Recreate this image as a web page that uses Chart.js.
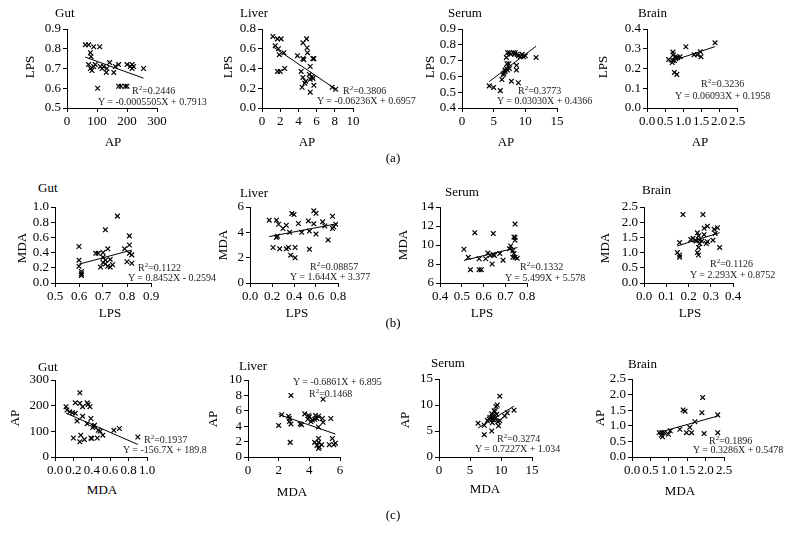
<!DOCTYPE html>
<html>
<head>
<meta charset="utf-8">
<script src="https://cdn.jsdelivr.net/npm/chart.js@4.4.1/dist/chart.umd.min.js"></script>
<style>
  body { margin: 0; background: #fff; width: 786px; height: 543px; position: relative; overflow: hidden;
         font-family: "Liberation Serif", "Times New Roman", serif; color: #000; }
  canvas { position: absolute; }
  .txt { position: absolute; white-space: nowrap; transform: translateY(-50%); }
  .ttl { font-size: 13px; }
  .xt { font-size: 13px; transform: translate(-50%, -50%); }
  .yt { font-size: 13px; transform: translate(-50%, -50%) rotate(-90deg); }
  .eq { font-size: 10px; color: #222; }
  .eq sup { font-size: 7px; vertical-align: 4px; line-height: 0; }
</style>
</head>
<body>
<script>
// (a) LPS vs AP
const gutA_x = [61, 72, 89, 109, 78, 80, 72, 78, 89, 83, 94, 111, 117, 122, 133, 131, 142, 156, 161, 172, 200, 211, 217, 217, 222, 255, 102, 172, 180, 194, 200];
const gutA_y = [0.82, 0.82, 0.81, 0.81, 0.78, 0.76, 0.72, 0.70, 0.71, 0.69, 0.72, 0.71, 0.70, 0.71, 0.70, 0.68, 0.73, 0.68, 0.71, 0.72, 0.72, 0.71, 0.72, 0.70, 0.71, 0.70, 0.60, 0.61, 0.61, 0.61, 0.61];
const liverA_x = [1.2, 1.7, 2.1, 1.45, 1.8, 1.9, 2.4, 1.7, 2.0, 2.5, 3.9, 4.5, 4.9, 4.95, 5.0, 4.5, 4.6, 5.6, 5.7, 5.3, 4.3, 4.5, 4.8, 4.7, 5.2, 5.5, 5.6, 5.3, 5.7, 4.4, 5.3, 7.7, 8.1];
const liverA_y = [0.725, 0.70, 0.70, 0.63, 0.60, 0.54, 0.56, 0.37, 0.37, 0.40, 0.53, 0.66, 0.70, 0.61, 0.56, 0.50, 0.49, 0.50, 0.50, 0.42, 0.37, 0.31, 0.27, 0.25, 0.34, 0.32, 0.30, 0.29, 0.23, 0.21, 0.16, 0.21, 0.19];
const serumA_x = [4.3, 5.0, 6.05, 6.3, 6.5, 6.6, 6.8, 7.0, 7.2, 7.1, 7.0, 7.2, 7.5, 7.7, 8.1, 8.3, 8.4, 8.7, 8.9, 9.2, 9.5, 9.7, 10.0, 7.5, 7.8, 8.6, 8.6, 8.9, 11.7, 6.8, 7.4];
const serumA_y = [0.54, 0.53, 0.51, 0.58, 0.61, 0.62, 0.64, 0.65, 0.64, 0.68, 0.72, 0.75, 0.75, 0.74, 0.75, 0.74, 0.75, 0.74, 0.73, 0.725, 0.74, 0.725, 0.73, 0.65, 0.57, 0.67, 0.64, 0.56, 0.72, 0.63, 0.68];
const brainA_x = [0.6, 0.72, 0.73, 0.76, 0.8, 0.7, 0.85, 0.92, 0.76, 0.83, 1.08, 1.31, 1.4, 1.5, 1.48, 1.89, 0.79, 0.72];
const brainA_y = [0.245, 0.283, 0.27, 0.24, 0.25, 0.23, 0.255, 0.26, 0.18, 0.17, 0.31, 0.27, 0.27, 0.26, 0.285, 0.33, 0.26, 0.24];

// (b) MDA vs LPS
const gutB_x = [0.60, 0.60, 0.60, 0.61, 0.61, 0.61, 0.67, 0.68, 0.70, 0.70, 0.71, 0.69, 0.71, 0.71, 0.72, 0.73, 0.73, 0.74, 0.76, 0.79, 0.81, 0.81, 0.81, 0.80, 0.82, 0.82, 0.70, 0.72];
const gutB_y = [0.48, 0.30, 0.22, 0.15, 0.12, 0.10, 0.39, 0.39, 0.40, 0.34, 0.30, 0.21, 0.25, 0.70, 0.45, 0.31, 0.21, 0.24, 0.88, 0.45, 0.62, 0.50, 0.39, 0.28, 0.26, 0.37, 0.27, 0.22];
const liverB_x = [0.175, 0.24, 0.26, 0.30, 0.33, 0.38, 0.40, 0.44, 0.53, 0.58, 0.60, 0.58, 0.66, 0.75, 0.78, 0.76, 0.75, 0.68, 0.71, 0.60, 0.54, 0.47, 0.36, 0.24, 0.25, 0.21, 0.27, 0.33, 0.35, 0.41, 0.37, 0.41, 0.54];
const liverB_y = [4.96, 4.96, 4.64, 4.3, 4.56, 5.48, 5.4, 4.7, 4.9, 5.7, 5.5, 4.67, 4.83, 5.27, 4.64, 4.44, 4.3, 4.5, 3.4, 3.86, 4.1, 4.0, 4.0, 3.6, 3.7, 2.8, 2.7, 2.7, 2.8, 2.8, 2.2, 2.0, 2.66];
const serumB_x = [0.51, 0.53, 0.54, 0.56, 0.58, 0.58, 0.59, 0.61, 0.62, 0.63, 0.645, 0.645, 0.64, 0.675, 0.69, 0.72, 0.725, 0.735, 0.74, 0.745, 0.745, 0.745, 0.735, 0.745, 0.755, 0.74, 0.65];
const serumB_y = [9.55, 8.7, 7.4, 11.3, 8.55, 7.4, 7.4, 8.55, 9.15, 8.9, 9.0, 11.2, 8.0, 9.1, 8.4, 9.6, 9.9, 9.4, 10.85, 10.8, 12.2, 10.5, 8.7, 8.7, 8.6, 9.1, 8.9];
const brainB_x = [0.15, 0.16, 0.16, 0.16, 0.175, 0.22, 0.23, 0.24, 0.245, 0.235, 0.25, 0.245, 0.24, 0.245, 0.25, 0.265, 0.27, 0.285, 0.27, 0.285, 0.28, 0.31, 0.315, 0.33, 0.32, 0.34, 0.26, 0.21];
const brainB_y = [1.0, 0.92, 0.85, 1.33, 2.25, 1.47, 1.41, 1.65, 1.55, 1.38, 1.3, 1.17, 1.0, 0.92, 1.41, 2.25, 1.8, 1.87, 1.59, 1.36, 1.3, 1.41, 1.77, 1.82, 1.63, 1.17, 1.38, 1.43];

// (c) AP vs MDA
const gutC_x = [0.12, 0.16, 0.22, 0.27, 0.27, 0.30, 0.35, 0.36, 0.38, 0.22, 0.24, 0.30, 0.39, 0.35, 0.42, 0.41, 0.47, 0.49, 0.52, 0.46, 0.39, 0.40, 0.32, 0.27, 0.20, 0.28, 0.64, 0.70, 0.90, 0.13, 0.19, 0.43];
const gutC_y = [196, 176, 211, 250, 209, 196, 211, 205, 196, 170, 140, 159, 150, 130, 120, 115, 104, 100, 85, 74, 74, 72, 68, 59, 74, 85, 104, 111, 78, 183, 172, 124];
const liverC_x = [2.0, 2.2, 2.8, 2.65, 2.7, 2.7, 2.8, 2.75, 3.4, 3.5, 3.7, 3.9, 3.96, 4.0, 4.1, 4.2, 4.35, 4.5, 4.6, 4.4, 4.6, 4.85, 4.9, 4.9, 5.4, 4.35, 4.5, 4.6, 4.6, 4.65, 4.8, 5.3, 5.5, 5.6, 5.7, 4.6];
const liverC_y = [4.1, 5.5, 8.0, 5.3, 5.0, 4.6, 4.3, 1.9, 4.3, 4.2, 5.6, 4.9, 5.4, 5.2, 4.6, 4.8, 4.9, 5.0, 5.3, 5.4, 3.9, 5.0, 4.5, 7.5, 5.0, 1.9, 1.5, 1.1, 2.4, 1.3, 1.6, 1.6, 2.4, 1.6, 1.8, 1.9];
const serumC_x = [6.3, 7.3, 7.3, 7.8, 8.1, 8.5, 8.6, 8.6, 8.5, 8.9, 9.0, 9.2, 9.4, 9.5, 8.9, 9.6, 9.8, 9.8, 10.6, 11.0, 12.1, 8.2, 8.8, 9.1, 8.7, 9.3];
const serumC_y = [6.5, 6.1, 4.3, 7.0, 7.3, 8.3, 7.7, 6.6, 5.0, 8.9, 8.7, 9.7, 10.0, 6.8, 7.1, 6.0, 11.7, 7.0, 7.9, 8.5, 9.0, 7.6, 8.0, 7.5, 7.2, 8.2];
const brainC_x = [0.74, 0.81, 0.83, 0.88, 0.99, 1.04, 1.3, 1.39, 1.44, 1.48, 1.57, 1.62, 1.71, 1.9, 1.92, 1.96, 2.33, 2.33, 0.8];
const brainC_y = [0.78, 0.78, 0.65, 0.78, 0.73, 0.84, 0.89, 1.51, 1.47, 0.78, 0.95, 0.78, 1.13, 1.42, 1.91, 0.75, 1.35, 0.78, 0.70];

// regression lines: [slope, intercept], R squared
const fitSlope = [-0.0005505, -0.06236, 0.03030, 0.06093, 0.8452, 1.644, 5.499, 2.293, -156.7, -0.6861, 0.7227, 0.3286];
const fitIntercept = [0.7913, 0.6957, 0.4366, 0.1958, -0.2594, 3.377, 5.578, 0.8752, 189.8, 6.895, 1.034, 0.5478];
const fitEquation = [
  "Y = -0.0005505X + 0.7913", "Y = -0.06236X + 0.6957", "Y = 0.03030X + 0.4366", "Y = 0.06093X + 0.1958",
  "Y = 0.8452X - 0.2594", "Y = 1.644X + 3.377", "Y = 5.499X + 5.578", "Y = 2.293X + 0.8752",
  "Y = -156.7X + 189.8", "Y = -0.6861X + 6.895", "Y = 0.7227X + 1.034", "Y = 0.3286X + 0.5478"
];
const fitR2 = ["0.2446", "0.3806", "0.3773", "0.3236", "0.1122", "0.08857", "0.1332", "0.1126", "0.1937", "0.1468", "0.3274", "0.1896"];

const tissues = ["Gut", "Liver", "Serum", "Brain"];
const rowAxes = [["AP", "LPS"], ["LPS", "MDA"], ["MDA", "AP"]];
const rowLabels = ["(a)", "(b)", "(c)"];

// per panel: data, axis [min, max, step, decimals]
const panels = [
  { xs: gutA_x, ys: gutA_y, xr: [0, 300, 100, 0], yr: [0.5, 0.9, 0.1, 1] },
  { xs: liverA_x, ys: liverA_y, xr: [0, 10, 2, 0], yr: [0, 0.8, 0.2, 1] },
  { xs: serumA_x, ys: serumA_y, xr: [0, 15, 5, 0], yr: [0.4, 0.9, 0.1, 1] },
  { xs: brainA_x, ys: brainA_y, xr: [0, 2.5, 0.5, 1], yr: [0, 0.4, 0.1, 1] },
  { xs: gutB_x, ys: gutB_y, xr: [0.5, 0.9, 0.1, 1], yr: [0, 1, 0.2, 1] },
  { xs: liverB_x, ys: liverB_y, xr: [0, 0.8, 0.2, 1], yr: [0, 6, 2, 0] },
  { xs: serumB_x, ys: serumB_y, xr: [0.4, 0.8, 0.1, 1], yr: [6, 14, 2, 0] },
  { xs: brainB_x, ys: brainB_y, xr: [0, 0.4, 0.1, 1], yr: [0, 2.5, 0.5, 1] },
  { xs: gutC_x, ys: gutC_y, xr: [0, 1, 0.2, 1], yr: [0, 300, 100, 0] },
  { xs: liverC_x, ys: liverC_y, xr: [0, 6, 2, 0], yr: [0, 10, 2, 0] },
  { xs: serumC_x, ys: serumC_y, xr: [0, 15, 5, 0], yr: [0, 15, 5, 0] },
  { xs: brainC_x, ys: brainC_y, xr: [0, 2.5, 0.5, 1], yr: [0, 2.5, 0.5, 1] }
];

// layout (page px): plot box [left, right, top, bottom], titles, axis titles, equation spots
const boxes = [
  [67, 157, 29, 108], [262, 353, 29, 108], [462, 557, 29, 108], [647, 737, 29, 108],
  [55, 151, 207, 283], [250, 338, 207, 283], [440, 527, 207, 283], [644, 733, 207, 283],
  [55, 147, 380, 457], [248, 340, 380, 457], [439, 532, 379, 457], [632, 724, 379, 457]
];
const titlePos = [[55, 13], [240, 13], [448, 13], [638, 13], [38, 188], [240, 193], [445, 192], [642, 190], [38, 367], [239, 366], [431, 363], [628, 364]];
const xTitlePos = [[113, 142], [307, 142], [506, 142], [700, 142], [110, 313], [297, 313], [482, 313], [690, 313], [102, 490], [292, 492], [485, 489], [680, 491]];
const yTitlePos = [[30, 67], [228, 67], [430, 67], [603, 67], [22, 248], [223, 245], [403, 245], [605, 248], [15, 418], [213, 419], [405, 420], [600, 418]];
const r2Pos = [[132, 90], [343, 90], [518, 90], [701, 83], [138, 267], [310, 266], [520, 266], [710, 263], [144, 439], [309, 393], [497, 438], [709, 440]];
const eqPos = [[98, 101], [317, 100], [497, 100], [675, 95], [128, 277], [290, 276], [505, 277], [690, 274], [123, 449], [293, 381], [475, 448], [693, 449]];

const FONT = '"Liberation Serif", "Times New Roman", serif';
const PAD_L = 45, PAD_T = 10, PAD_R = 16, PAD_B = 25;

function addText(html, x, y, cls) {
  const d = document.createElement("div");
  d.className = "txt " + cls;
  d.innerHTML = html;
  d.style.left = x + "px";
  d.style.top = y + "px";
  document.body.appendChild(d);
}

function axis(r, fit) {
  return {
    type: "linear",
    min: r[0], max: r[1],
    ticks: {
      stepSize: r[2], autoSkip: false, maxRotation: 0, minRotation: 0, padding: 2,
      color: "#000", font: { family: FONT, size: 13 },
      callback: (v) => Number(v).toFixed(r[3])
    },
    grid: { drawOnChartArea: false, tickLength: 4, color: "#000", lineWidth: 1 },
    border: { color: "#000", width: 1 },
    afterFit: fit
  };
}

panels.forEach((p, i) => {
  const [l, r, t, b] = boxes[i];
  const cv = document.createElement("canvas");
  const w = r - l + PAD_L + PAD_R, h = b - t + PAD_T + PAD_B;
  cv.width = w; cv.height = h;
  cv.style.left = (l - PAD_L) + "px";
  cv.style.top = (t - PAD_T) + "px";
  cv.style.width = w + "px"; cv.style.height = h + "px";
  document.body.appendChild(cv);

  const pts = p.xs.map((x, k) => ({ x, y: p.ys[k] }));
  const x0 = Math.min(...p.xs), x1 = Math.max(...p.xs);
  const line = [x0, x1].map((x) => ({ x, y: fitSlope[i] * x + fitIntercept[i] }));

  new Chart(cv.getContext("2d"), {
    type: "scatter",
    data: {
      datasets: [
        { data: pts, pointStyle: "crossRot", pointRadius: 3.3, borderColor: "#000", borderWidth: 1.2, backgroundColor: "#000" },
        { data: line, showLine: true, pointRadius: 0, borderColor: "#000", borderWidth: 1 }
      ]
    },
    options: {
      responsive: false, animation: false, events: [],
      layout: { padding: { left: 0, top: PAD_T, right: PAD_R, bottom: 0 } },
      plugins: { legend: { display: false }, tooltip: { enabled: false } },
      scales: {
        x: axis(p.xr, (s) => { s.height = PAD_B; }),
        y: axis(p.yr, (s) => { s.width = PAD_L; })
      }
    }
  });

  const row = Math.floor(i / 4);
  addText(tissues[i % 4], titlePos[i][0], titlePos[i][1], "ttl");
  addText(rowAxes[row][0], xTitlePos[i][0], xTitlePos[i][1], "xt");
  addText(rowAxes[row][1], yTitlePos[i][0], yTitlePos[i][1], "yt");
  addText("R<sup>2</sup>=" + fitR2[i], r2Pos[i][0], r2Pos[i][1], "eq");
  addText(fitEquation[i], eqPos[i][0], eqPos[i][1], "eq");
});

addText(rowLabels[0], 393, 158, "xt");
addText(rowLabels[1], 393, 323, "xt");
addText(rowLabels[2], 393, 515, "xt");
</script>
</body>
</html>
